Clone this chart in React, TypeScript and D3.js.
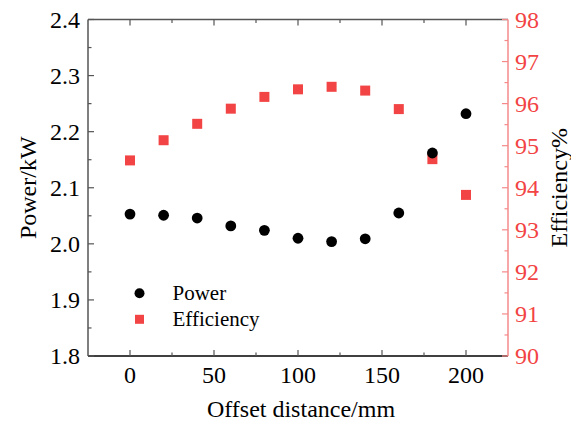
import React from "react";
import * as d3 from "d3";

const offsets = [0, 20, 40, 60, 80, 100, 120, 140, 160, 180, 200];
const power = [2.053, 2.051, 2.046, 2.032, 2.024, 2.010, 2.004, 2.009, 2.055, 2.162, 2.232];
const efficiency = [94.65, 95.13, 95.52, 95.88, 96.16, 96.34, 96.40, 96.31, 95.87, 94.68, 93.83];
const xTicks = [0, 50, 100, 150, 200];
const xMinor = [25, 75, 125, 175];
const powerTicks = [1.8, 1.9, 2.0, 2.1, 2.2, 2.3, 2.4];
const effTicks = [90, 91, 92, 93, 94, 95, 96, 97, 98];
const legendLabels = ["Power", "Efficiency"];

const W = 579, H = 426;
const L = 88, R = 508, T = 19.5, B = 356;
const RED = "#f24444";
const AXRED = "#f58a8a";
const SERIF = { fontFamily: "Liberation Serif" };

export default function App() {
  const x = d3.scaleLinear().domain([-25, 225]).range([L, R]);
  const yP = d3.scaleLinear().domain([1.8, 2.4]).range([B, T]);
  const yE = d3.scaleLinear().domain([90, 98]).range([B, T]);
  const pMinor = d3.range(0, 6).map((i) => 1.85 + i * 0.1);
  const eMinor = d3.range(0, 8).map((i) => 90.5 + i);
  const fmtP = d3.format(".1f");

  return (
    <div style={{ margin: -8 }}>
      <svg width={W} height={H}>
        {offsets.map((o, i) => (
          <rect key={"e" + i} x={x(o) - 5} y={yE(efficiency[i]) - 5} width={10} height={10} fill={RED} />
        ))}
        {offsets.map((o, i) => (
          <circle key={"p" + i} cx={x(o)} cy={yP(power[i])} r={5.4} fill="#000" />
        ))}

        <line x1={L} x2={R} y1={T} y2={T} stroke="#555" strokeWidth={1.5} />
        <line x1={L} x2={R} y1={B} y2={B} stroke="#000" strokeWidth={1.5} />
        <line x1={L} x2={L} y1={T} y2={B} stroke="#555" strokeWidth={1.5} />
        <line x1={R} x2={R} y1={T} y2={B} stroke={AXRED} strokeWidth={1.5} />

        {xTicks.map((t) => (
          <g key={"xt" + t}>
            <line x1={x(t)} x2={x(t)} y1={B} y2={B - 6} stroke="#555" strokeWidth={1.2} />
            <line x1={x(t)} x2={x(t)} y1={T} y2={T + 6} stroke="#555" strokeWidth={1.2} />
            <text x={x(t)} y={383} textAnchor="middle" fontSize={24} fill="#000" style={SERIF}>{t}</text>
          </g>
        ))}
        {xMinor.map((t) => (
          <g key={"xm" + t}>
            <line x1={x(t)} x2={x(t)} y1={B} y2={B - 3.5} stroke="#555" strokeWidth={1.2} />
            <line x1={x(t)} x2={x(t)} y1={T} y2={T + 3.5} stroke="#555" strokeWidth={1.2} />
          </g>
        ))}

        {powerTicks.map((t) => (
          <g key={"pt" + t}>
            <line x1={L} x2={L + 6} y1={yP(t)} y2={yP(t)} stroke="#555" strokeWidth={1.2} />
            <text x={80} y={yP(t) + 8} textAnchor="end" fontSize={24} fill="#000" style={SERIF}>{fmtP(t)}</text>
          </g>
        ))}
        {pMinor.map((t) => (
          <line key={"pm" + t} x1={L} x2={L + 3.5} y1={yP(t)} y2={yP(t)} stroke="#555" strokeWidth={1.2} />
        ))}

        {effTicks.map((t) => (
          <g key={"et" + t}>
            <line x1={R} x2={R - 6} y1={yE(t)} y2={yE(t)} stroke={AXRED} strokeWidth={1.2} />
            <text x={515} y={yE(t) + 8} textAnchor="start" fontSize={24} fill={RED} style={SERIF}>{t}</text>
          </g>
        ))}
        {eMinor.map((t) => (
          <line key={"em" + t} x1={R} x2={R - 3.5} y1={yE(t)} y2={yE(t)} stroke={AXRED} strokeWidth={1.2} />
        ))}

        <text x={(L + R) / 2 + 3} y={417} textAnchor="middle" fontSize={24} fill="#000" style={SERIF}>Offset distance/mm</text>
        <text transform={`translate(36, ${(T + B) / 2}) rotate(-90)`} textAnchor="middle" fontSize={24} fill="#000" style={SERIF}>Power/kW</text>
        <text transform={`translate(567, ${(T + B) / 2}) rotate(-90)`} textAnchor="middle" fontSize={24} fill="#000" style={SERIF}>Efficiency%</text>

        <circle cx={139.5} cy={293.3} r={5} fill="#000" />
        <rect x={135} y={314.8} width={9} height={9} fill={RED} />
        <text x={172.5} y={299.5} fontSize={21} fill="#000" style={SERIF}>{legendLabels[0]}</text>
        <text x={172.5} y={325.5} fontSize={21} fill="#000" style={SERIF}>{legendLabels[1]}</text>
      </svg>
    </div>
  );
}
